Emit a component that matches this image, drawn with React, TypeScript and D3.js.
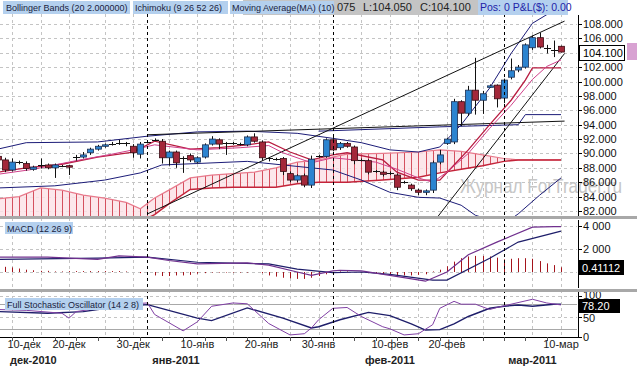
import React from "react";
import * as d3 from "d3";

// Sun–Fri sessions, 7 Dec 2010 – 10 Mar 2011 (first one sits just off the left edge)
const dates: Date[] = d3.timeDay
  .range(new Date(2010, 11, 7), new Date(2011, 2, 11))
  .filter((d) => d.getDay() !== 6);

const opens = [
  89.5, 89.6, 89.1, 87.7, 88.8, 88.6, 87.8, 88.4, 88.4, 88.0, 88.3, 88.3, 89.4, 89.5, 90.1, 90.6, 91.0,
  91.3, 91.4, 91.4, 91.0, 89.9, 91.6, 91.85, 91.7, 89.4, 90.2, 89.4, 89.7, 88.8, 89.5, 91.3, 91.9,
  91.45, 91.4, 91.3, 91.2, 92.3, 91.6, 89.3, 89.25, 89.3, 87.2, 86.3, 86.9, 85.6, 89.6, 89.6, 91.9,
  90.8, 91.4, 90.9, 89.1, 89.0, 87.5, 87.4, 87.3, 87.0, 86.0, 85.6, 84.9, 84.6, 84.9, 88.8, 91.4,
  91.6, 97.2, 95.6, 98.8, 97.4, 99.3, 99.5, 97.7, 100.6, 101.6, 102.0, 104.7, 106.1, 104.7, 104.4, 104.9,
];
const highs = [
  89.8, 89.9, 89.4, 89.3, 89.0, 88.9, 88.3, 89.3, 88.6, 88.6, 88.4, 88.4, 89.8, 90.2, 90.8, 91.2, 91.4,
  91.6, 91.9, 91.6, 91.3, 91.6, 91.8, 92.1, 92.0, 90.4, 90.4, 89.6, 90.0, 89.6, 91.4, 92.4, 92.1,
  91.6, 91.6, 91.5, 92.5, 92.8, 91.8, 89.5, 89.4, 89.5, 87.5, 87.1, 87.2, 89.7, 89.8, 92.1, 92.3,
  91.6, 91.6, 91.1, 89.3, 89.2, 87.7, 87.6, 87.5, 87.2, 86.2, 85.8, 85.1, 85.0, 89.0, 90.5, 92.2,
  97.6, 97.4, 99.4, 103.3, 98.7, 99.6, 99.6, 100.4, 103.2, 102.3, 105.3, 106.4, 106.8, 105.1, 105.7, 105.0,
];
const lows = [
  88.9, 89.0, 87.4, 87.5, 88.5, 87.6, 87.6, 87.9, 87.8, 86.6, 88.1, 87.0, 89.0, 89.3, 89.8, 90.4, 90.8,
  91.1, 91.2, 91.0, 89.4, 89.3, 91.4, 91.7, 88.6, 88.3, 88.0, 87.3, 88.8, 88.6, 89.3, 91.1, 90.6,
  89.8, 91.2, 91.1, 91.0, 91.5, 89.0, 88.9, 89.0, 87.0, 86.0, 86.0, 85.3, 85.2, 89.4, 89.4, 90.3,
  90.5, 90.8, 88.5, 88.9, 87.1, 87.3, 86.8, 87.0, 84.9, 85.8, 84.8, 84.2, 84.2, 84.5, 88.5, 91.2,
  91.3, 93.8, 95.2, 95.4, 95.5, 99.1, 96.4, 97.0, 100.3, 101.3, 101.8, 104.4, 104.6, 103.9, 103.4, 104.05,
];
const closes = [
  89.2, 89.1, 87.7, 88.8, 88.75, 87.9, 88.1, 88.35, 88.0, 88.4, 88.25, 88.1, 89.45, 89.8, 90.6, 91.0, 91.2,
  91.35, 91.45, 91.38, 90.1, 91.3, 91.65, 91.9, 89.4, 90.2, 88.7, 89.35, 89.1, 89.4, 91.2, 92.0, 91.3,
  91.4, 91.42, 91.25, 92.3, 91.7, 89.4, 89.25, 89.2, 87.5, 86.3, 86.9, 85.6, 89.2, 89.65, 91.9, 90.5,
  91.4, 91.0, 89.0, 89.05, 87.4, 87.45, 87.1, 87.25, 85.3, 85.95, 85.1, 84.6, 84.8, 88.7, 89.8, 92.0,
  97.2, 95.6, 98.8, 97.4, 98.3, 99.4, 97.6, 100.2, 101.5, 102.0, 105.1, 106.1, 104.8, 104.65, 104.45, 104.1,
];

// Bollinger Bands (20, 2), read at a few sessions
const bbUpperAt = [1, 5, 15, 22, 29, 36, 43, 48, 52, 56, 60, 63, 66, 70, 73, 76, 80];
const bbUpper = [90.6, 91.5, 91.6, 92.4, 93.0, 93.1, 92.8, 92.1, 91.5, 90.5, 90.2, 90.9, 94.0, 99.1, 103.9, 108.1, 110.5];
const bbLowerAt = [1, 9, 16, 21, 24, 29, 36, 43, 48, 52, 56, 60, 63, 66, 68, 72, 74, 77, 80];
const bbLower = [85.2, 85.5, 86.3, 87.3, 88.4, 88.6, 88.9, 88.2, 87.7, 86.3, 84.6, 83.9, 83.8, 82.8, 81.4, 80.2, 81.6, 84.2, 86.6];

// Ichimoku (9 26 52 26)
const tenkanAt = [1, 5, 10, 15, 20, 23, 28, 32, 36, 39, 42, 45, 48, 50, 55, 57, 60, 63, 65, 67, 70, 73, 75, 76, 80];
const tenkan = [87.4, 88.0, 88.5, 89.5, 90.2, 91.7, 90.6, 90.8, 91.2, 91.6, 90.2, 89.1, 89.8, 90.1, 89.1, 87.4, 86.3, 86.3, 88.4, 90.5, 94.0, 97.4, 100.2, 101.9, 101.9];
const kijunAt = [46, 63, 74, 75, 80];
const kijun = [93.1, 93.7, 94.0, 95.4, 95.4];
const cloudAt = [0, 4, 7, 10, 13, 16, 19, 21, 23, 25, 28, 31, 34, 37, 40, 43, 46, 50, 55, 60, 63, 66, 69, 72, 74, 80];
const spanA = [83.6, 84.0, 85.2, 84.9, 84.2, 83.8, 83.2, 82.3, 83.8, 84.9, 86.6, 87.0, 87.2, 87.4, 88.0, 88.8, 89.1, 89.9, 90.0, 90.2, 90.5, 90.3, 89.8, 89.3, 89.1, 89.1];
const spanB = [80.5, 80.5, 80.5, 80.5, 80.5, 80.5, 80.5, 80.5, 81.5, 83.0, 85.0, 85.2, 85.3, 85.3, 85.3, 85.8, 86.0, 86.0, 86.3, 86.7, 87.3, 87.8, 88.3, 88.9, 89.1, 89.1];

// Moving Average (10)
const maAt = [1, 6, 12, 17, 20, 23, 29, 35, 39, 41, 45, 48, 54, 57, 60, 62, 64, 67, 70, 73, 76, 78, 80];
const ma = [87.1, 87.8, 89.0, 89.9, 90.5, 91.2, 90.5, 90.8, 91.1, 90.1, 88.7, 89.4, 88.8, 87.8, 86.6, 86.0, 87.4, 90.0, 93.5, 96.7, 100.3, 102.1, 103.0];

// drawn trend lines [session, price]
const trendUp = [[22, 81.6], [80.5, 108.4]];
const trendTop = [[22, 92.6], [80.5, 94.5]];
const trendLow = [[62, 80.3], [80.5, 103.9]];

// MACD (12 26 9)
const macdAt = [1, 8, 15, 18, 22, 25, 29, 36, 39, 43, 45, 48, 49, 52, 56, 61, 64, 67, 71, 76, 79, 80];
const macd = [1.3, 1.3, 1.1, 1.4, 1.3, 1.0, 0.7, 0.8, 0.6, 0.0, -0.3, 0.1, 0.15, 0.1, -0.3, -0.8, 0.0, 1.5, 2.6, 3.9, 3.95, 3.95];
const signalAt = [1, 15, 22, 29, 39, 43, 48, 52, 56, 62, 64, 70, 74, 80];
const signal = [1.1, 1.2, 1.3, 0.85, 0.7, 0.25, -0.05, 0.0, -0.2, -0.7, -0.7, 1.2, 2.6, 3.55];
const macdHist = [
  0.5, 0.5, 0.45, 0.4, 0.3, 0.2, 0.15, 0.1, 0.1, 0.05, 0.05, 0.08, 0.08, 0.08, 0.08, 0.08, 0.08,
  0.08, 0.08, 0.05, 0, -0.1, -0.2, -0.3, -0.35, -0.35, -0.3, -0.3, -0.25, -0.15, -0.1, -0.05, -0.05,
  -0.05, -0.05, -0.05, -0.05, 0, -0.1, -0.3, -0.4, -0.5, -0.55, -0.6, -0.6, -0.5, -0.35, -0.2, -0.05,
  0.05, 0.05, 0, -0.05, -0.1, -0.15, -0.2, -0.25, -0.3, -0.3, -0.3, -0.25, -0.2, 0.05, 0.2, 0.5,
  0.9, 1.2, 1.35, 1.4, 1.4, 1.35, 1.25, 1.1, 1.15, 1.2, 1.2, 1.15, 0.95, 0.75, 0.6, 0.41112,
];

// Full Stochastic (14 2 8)
const stochKAt = [1, 5, 10, 11, 12, 15, 19, 22, 23, 27, 29, 31, 34, 36, 39, 42, 44, 45, 46, 48, 50, 52, 55, 56, 58, 60, 62, 63, 65, 66, 68, 70, 71, 73, 76, 78, 80];
const stochK = [67, 65, 58, 46, 62, 70, 80, 83, 55, 15, 37, 75, 83, 81, 33, 5, 8, 22, 42, 70, 72, 50, 25, 20, 5, 8, 30, 70, 87, 80, 80, 67, 72, 80, 92, 83, 78.2];
const stochDAt = [1, 8, 13, 15, 19, 22, 29, 31, 36, 41, 45, 46, 49, 53, 56, 59, 61, 63, 65, 67, 70, 72, 74, 76, 79, 80];
const stochD = [62, 58, 62, 67, 75, 79, 46, 40, 71, 46, 22, 25, 42, 60, 52, 32, 17, 18, 32, 50, 70, 75, 78, 75, 80, 80];

// axes
const priceTicks = [82, 84, 86, 88, 90, 92, 94, 96, 98, 100, 102, 104, 106, 108];
const macdTicks = [4, 2];
const stochTicks = [100, 50, 0];
const dayTicks = ["2010-12-10", "2010-12-20", "2010-12-30", "2011-01-10", "2011-01-20", "2011-01-30", "2011-02-10", "2011-02-20", "2011-03-10"];
const dayLabels = ["10-дек", "20-дек", "30-дек", "10-янв", "20-янв", "30-янв", "10-фев", "20-фев", "10-мар"];
const gridDays = ["2010-12-15", "2010-12-25", "2011-01-05", "2011-01-15", "2011-01-25", "2011-02-05", "2011-02-15", "2011-02-25", "2011-03-05"];
const monthTicks = ["2010-12-14", "2011-01-06", "2011-02-10", "2011-03-06"];
const monthLabels = ["дек-2010", "янв-2011", "фев-2011", "мар-2011"];
const monthStarts = ["2011-01-01", "2011-02-01", "2011-03-01"];

const FONT = "'Liberation Sans', Arial, sans-serif";
const BLUE = "#2c84d0";
const RED = "#a3283a";
const NAVY = "#1c1c78";
const GRID = "#c4c4c4";

export default function App() {
  const W = 637;
  const H = 367;
  const plotR = 577;

  const x = d3.scaleLinear().domain([0, dates.length - 1]).range([561 - (dates.length - 1) * 7.13, 561]);
  const yP = d3.scaleLinear().domain([82, 108]).range([211, 24]);
  const yM = d3.scaleLinear().domain([0, 4]).range([272, 226]);
  const yS = d3.scaleLinear().domain([0, 100]).range([337, 296]);

  const parse = d3.timeParse("%Y-%m-%d");
  const times = dates.map((d) => +d);
  const idx = (s: string) => d3.bisectLeft(times, +(parse(s) as Date));

  const seg = (at: number[], vals: number[], y: d3.ScaleLinear<number, number>) =>
    d3.line<number>().x((i) => x(at[i])).y((i) => y(vals[i]))(d3.range(at.length)) || "";
  const pts = (p: number[][], y: d3.ScaleLinear<number, number>) =>
    d3.line<number[]>().x((d) => x(d[0])).y((d) => y(d[1]))(p) || "";

  const cloud = d3
    .area<number>()
    .x((i) => x(cloudAt[i]))
    .y0((i) => yP(spanB[i]))
    .y1((i) => yP(spanA[i]))(d3.range(cloudAt.length)) || "";

  const gridXs = [...dayTicks, ...gridDays].map((s) => idx(s)).map((i) => Math.round(x(i)) + 0.5);
  const fmt3 = d3.format(".3f");

  return (
    <svg width={W} height={H} style={{ position: "absolute", left: 0, top: 0, background: "#fff", fontFamily: FONT }}>
      <defs>
        <clipPath id="mainClip"><rect x={0} y={14} width={plotR} height={202} /></clipPath>
        <clipPath id="macdClip"><rect x={0} y={219} width={plotR} height={70} /></clipPath>
        <clipPath id="stochClip"><rect x={0} y={292} width={plotR} height={45} /></clipPath>
        <clipPath id="cloudClip"><path d={cloud} /></clipPath>
      </defs>
      <rect x={0} y={0} width={W} height={H} fill="#fff" />

      {/* grid */}
      {priceTicks.map((p) => (
        <line key={"pg" + p} x1={0} x2={plotR} y1={Math.round(yP(p)) + 0.5} y2={Math.round(yP(p)) + 0.5} stroke={GRID} strokeDasharray="3,3" />
      ))}
      {[4, 2, 0].map((v) => (
        <line key={"mg" + v} x1={0} x2={plotR} y1={Math.round(yM(v)) + 0.5} y2={Math.round(yM(v)) + 0.5} stroke={GRID} strokeDasharray="3,3" />
      ))}
      {[100, 50].map((v) => (
        <line key={"sg" + v} x1={0} x2={plotR} y1={Math.round(yS(v)) + 0.5} y2={Math.round(yS(v)) + 0.5} stroke={GRID} strokeDasharray="3,3" />
      ))}
      {[80, 20].map((v) => (
        <line key={"sl" + v} x1={0} x2={plotR} y1={Math.round(yS(v)) + 0.5} y2={Math.round(yS(v)) + 0.5} stroke="#a8a8a8" />
      ))}
      {gridXs.map((gx, i) => (
        <line key={"vg" + i} x1={gx} x2={gx} y1={14} y2={337} stroke={GRID} strokeDasharray="3,3" />
      ))}

      {/* watermark, spills over the price scale like the original */}
      <text x={460} y={193} fontSize={20} fill="#c6c6c6" textLength={162} lengthAdjust="spacingAndGlyphs">
        Журнал ForTrader.ru
      </text>

      {/* main panel */}
      <g clipPath="url(#mainClip)">
        <path d={cloud} fill="#fbe3e8" fillOpacity={0.85} />
        <g clipPath="url(#cloudClip)">
          {dates.map((_, i) => (
            <line key={"h" + i} x1={Math.round(x(i)) + 0.5} x2={Math.round(x(i)) + 0.5} y1={14} y2={216} stroke="#d4505e" />
          ))}
        </g>
        <path d={seg(cloudAt, spanA, yP)} fill="none" stroke="#e87a8c" strokeWidth={1.2} />
        <path d={seg(cloudAt, spanB, yP)} fill="none" stroke="#c4243a" strokeWidth={1.5} />

        <path d={seg(bbUpperAt, bbUpper, yP)} fill="none" stroke={NAVY} />
        <path d={seg(bbLowerAt, bbLower, yP)} fill="none" stroke={NAVY} />
        <path d={seg(kijunAt, kijun, yP)} fill="none" stroke={NAVY} />
        <path d={pts(trendUp, yP)} fill="none" stroke="#111" />
        <path d={pts(trendTop, yP)} fill="none" stroke="#111" />
        <path d={pts(trendLow, yP)} fill="none" stroke="#111" />
        <path d={seg(tenkanAt, tenkan, yP)} fill="none" stroke="#b81c40" strokeWidth={1.3} />
        <path d={seg(maAt, ma, yP)} fill="none" stroke="#d0408a" />

        {dates.map((_, i) => {
          const o = opens[i];
          const c = closes[i];
          const cx = Math.round(x(i)) + 0.5;
          const flat = Math.abs(c - o) < 0.08;
          const top = yP(Math.max(o, c));
          const bot = yP(Math.min(o, c));
          return (
            <g key={"c" + i}>
              <line x1={cx} x2={cx} y1={yP(highs[i])} y2={yP(lows[i])} stroke="#111" />
              {flat ? (
                <line x1={cx - 3.5} x2={cx + 3.5} y1={Math.round(top) + 0.5} y2={Math.round(top) + 0.5} stroke="#111" />
              ) : (
                <rect
                  x={cx - 3}
                  y={top}
                  width={6}
                  height={Math.max(1.5, bot - top)}
                  fill={c > o ? BLUE : RED}
                  stroke={c > o ? "#1d2f52" : "#3a0c14"}
                  strokeWidth={0.8}
                />
              )}
            </g>
          );
        })}
      </g>

      {/* MACD panel */}
      <g clipPath="url(#macdClip)">
        {macdHist.map((v, i) => (
          <line key={"mh" + i} x1={Math.round(x(i)) + 0.5} x2={Math.round(x(i)) + 0.5} y1={yM(0)} y2={yM(v)} stroke="#a4141c" />
        ))}
        <path d={seg(signalAt, signal, yM)} fill="none" stroke="#1e1e6a" strokeWidth={1.2} />
        <path d={seg(macdAt, macd, yM)} fill="none" stroke="#70308e" strokeWidth={1.2} />
      </g>

      {/* stochastic panel */}
      <g clipPath="url(#stochClip)">
        <path d={seg(stochDAt, stochD, yS)} fill="none" stroke="#1e1e6a" strokeWidth={1.4} />
        <path d={seg(stochKAt, stochK, yS)} fill="none" stroke="#8040a4" />
      </g>

      {/* month dividers */}
      {monthStarts.map((s) => {
        const mx = Math.round(x(idx(s))) + 0.5;
        return <line key={s} x1={mx} x2={mx} y1={14} y2={337} stroke="#000" strokeDasharray="3,3" />;
      })}

      {/* right price axis */}
      <line x1={578.5} x2={578.5} y1={15} y2={216} stroke="#000" />
      {priceTicks.map((p) => (
        <g key={"pt" + p}>
          <line x1={578} x2={582} y1={Math.round(yP(p)) + 0.5} y2={Math.round(yP(p)) + 0.5} stroke="#000" />
          <text x={583} y={yP(p) + 4} fontSize={11} fill="#111">{fmt3(p)}</text>
        </g>
      ))}
      <rect x={579.5} y={45.5} width={45} height={15} fill="#fff" stroke="#000" />
      <text x={583} y={57} fontSize={11} fill="#000">{fmt3(closes[closes.length - 1])}</text>
      <rect x={627} y={43} width={10} height={17} fill="#d8a2d2" />

      <line x1={578.5} x2={578.5} y1={220} y2={288} stroke="#000" />
      {macdTicks.map((v) => (
        <g key={"mt" + v}>
          <line x1={578} x2={582} y1={Math.round(yM(v)) + 0.5} y2={Math.round(yM(v)) + 0.5} stroke="#000" />
          <text x={583} y={yM(v) + 4} fontSize={11} fill="#111">{`${v} 000`}</text>
        </g>
      ))}
      <rect x={579} y={260} width={45} height={15} fill="#000" />
      <text x={582} y={272} fontSize={11} fill="#fff">{macdHist[macdHist.length - 1].toFixed(5)}</text>

      <line x1={578.5} x2={578.5} y1={292} y2={337} stroke="#000" />
      {stochTicks.map((v) => (
        <g key={"st" + v}>
          <line x1={578} x2={582} y1={Math.round(yS(v)) + 0.5} y2={Math.round(yS(v)) + 0.5} stroke="#000" />
          <text x={583} y={yS(v) + (v === 100 ? 3 : v === 50 ? 5 : 4)} fontSize={11} fill="#111">{v}</text>
        </g>
      ))}
      <rect x={579} y={299} width={41} height={14} fill="#000" />
      <text x={582} y={310} fontSize={11} fill="#fff">{stochK[stochK.length - 1].toFixed(2)}</text>

      {/* panel separators */}
      <rect x={0} y={216} width={W} height={3} fill="#a8a8a8" />
      <rect x={0} y={289} width={W} height={3} fill="#a8a8a8" />

      {/* date axis */}
      <line x1={0} x2={578} y1={337.5} y2={337.5} stroke="#000" />
      {dates.map((_, i) =>
        i % 3 === 0 ? (
          <line key={"xt" + i} x1={Math.round(x(i)) + 0.5} x2={Math.round(x(i)) + 0.5} y1={337} y2={341} stroke="#555" />
        ) : null
      )}
      {dayTicks.map((s, i) => (
        <text key={s} x={Math.max(x(idx(s)), 24)} y={348} fontSize={11} fill="#222" textAnchor="middle">
          {dayLabels[i]}
        </text>
      ))}
      {monthTicks.map((s, i) => (
        <text key={s} x={x(idx(s))} y={364} fontSize={11} fontWeight="bold" fill="#222" textAnchor="middle">
          {monthLabels[i]}
        </text>
      ))}

      {/* indicator legends */}
      <rect x={5} y={222} width={68} height={12} fill="#b4d0ee" />
      <text x={7} y={231.5} fontSize={9} fill="#1a2340">MACD (12 26 9)</text>
      <rect x={5} y={298} width={138} height={12} fill="#b4d0ee" />
      <text x={7} y={307.5} fontSize={9} fill="#1a2340">Full Stochastic Oscillator (14 2 8)</text>

      {/* info bar + top legends */}
      <rect x={243} y={0} width={325} height={15} fill="#c4c4c4" />
      <text x={337} y={11} fontSize={11} fill="#222">075</text>
      <text x={363} y={11} fontSize={11} fill="#222">L:104.050</text>
      <text x={420} y={11} fontSize={11} fill="#222">C:104.100</text>
      <rect x={478} y={0} width={90} height={15} fill="#b4d0ee" />
      <text x={480} y={11} fontSize={10.5} fill="#2222a8">Pos: 0 P&amp;L($): 0.00</text>
      <rect x={3} y={1} width={127} height={13} fill="#b4d0ee" />
      <text x={6} y={11} fontSize={9} fill="#1a2340">Bollinger Bands (20 2.000000)</text>
      <rect x={133} y={1} width={95} height={13} fill="#b4d0ee" />
      <text x={135} y={11} fontSize={9} fill="#1a2340">Ichimoku (9 26 52 26)</text>
      <rect x={230} y={1} width={104} height={13} fill="#b4d0ee" />
      <text x={232} y={11} fontSize={9} fill="#1a2340">Moving Average(MA) (10)</text>
    </svg>
  );
}
